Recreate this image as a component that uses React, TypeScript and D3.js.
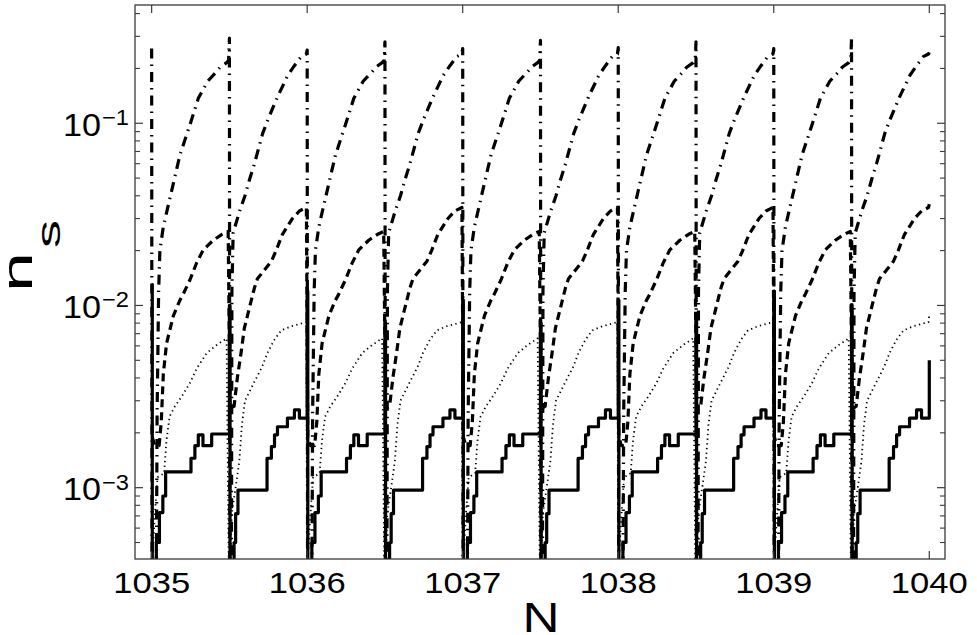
import React from 'react';
import * as d3 from 'd3';

const W = 977;
const H = 635;

// period boundaries (N) and their type
const periodStarts = [1035, 1035.5, 1036, 1036.5, 1037, 1037.5, 1038, 1038.5, 1039, 1039.5];
const periodKinds = ['A', 'B', 'A', 'B', 'A', 'B', 'A', 'B', 'A', 'B'];
const seriesEnd = 1040;

// spike heights at each boundary
const solidSpikes = [1.3e-2, 1.0e-2, 1.2e-2, 8e-3, 1.07e-2, 8e-3, 1.07e-2, 9e-3, 1.2e-2, 1.0e-2];
const dashDotSpikes = [0.257, 0.293, 0.252, 0.28, 0.257, 0.285, 0.26, 0.28, 0.257, 0.29];

// solid (staircase) : [offset within period, n_s]
const solidA: [number, number][] = [
  [0.004, 1e-4], [0.030, 5.0e-4], [0.050, 7.3e-4], [0.072, 9.0e-4], [0.090, 1.22e-3],
  [0.253, 1.45e-3], [0.278, 1.70e-3], [0.300, 1.95e-3], [0.330, 1.70e-3], [0.386, 1.97e-3],
];
const solidB: [number, number][] = [
  [0.004, 1e-4], [0.030, 5.0e-4], [0.040, 7.2e-4], [0.055, 9.7e-4], [0.242, 1.45e-3],
  [0.270, 1.68e-3], [0.290, 1.95e-3], [0.309, 2.16e-3], [0.373, 2.41e-3], [0.418, 2.67e-3],
  [0.450, 2.41e-3],
];
const solidEnd = 5e-3;

// dotted
const dottedA: [number, number][] = [
  [0.002, 1e-4], [0.006, 4.2e-4], [0.020, 7.0e-4], [0.038, 1.14e-3], [0.080, 1.2e-3],
  [0.095, 1.8e-3], [0.115, 2.45e-3], [0.150, 2.8e-3], [0.193, 3.16e-3], [0.246, 3.75e-3],
  [0.289, 4.5e-3], [0.354, 5.48e-3], [0.418, 6.07e-3], [0.482, 6.6e-3],
];
const dottedB: [number, number][] = [
  [0.002, 1e-4], [0.008, 4.5e-4], [0.015, 7.2e-4], [0.040, 1.0e-3], [0.064, 1.4e-3],
  [0.080, 2.2e-3], [0.100, 3.0e-3], [0.160, 3.8e-3], [0.210, 4.6e-3], [0.245, 5.5e-3],
  [0.290, 6.5e-3], [0.334, 7.3e-3], [0.400, 7.7e-3], [0.470, 8.0e-3], [0.495, 8.1e-3],
];
const dottedEnd = 8.8e-3;

// dashed
const dashedA: [number, number][] = [
  [0.004, 1.9e-3], [0.020, 1.7e-3], [0.048, 1.7e-3], [0.062, 2.3e-3], [0.075, 4.2e-3],
  [0.096, 6.2e-3], [0.140, 8.8e-3], [0.182, 1.07e-2], [0.200, 1.14e-2], [0.246, 1.38e-2],
  [0.289, 1.71e-2], [0.332, 2.02e-2], [0.396, 2.28e-2], [0.450, 2.45e-2], [0.492, 2.55e-2],
];
const dashedB: [number, number][] = [
  [0.004, 2.7e-3], [0.030, 2.8e-3], [0.051, 4.0e-3], [0.075, 5.5e-3], [0.096, 7.5e-3],
  [0.141, 1.07e-2], [0.161, 1.25e-2], [0.180, 1.4e-2], [0.270, 1.75e-2], [0.300, 2.0e-2],
  [0.340, 2.45e-2], [0.405, 3.0e-2], [0.450, 3.3e-2], [0.495, 3.45e-2],
];
const dashedEnd = 3.6e-2;

// dash-dot
const dashDotA: [number, number][] = [
  [0.003, 1e-4], [0.028, 1e-4], [0.035, 2.5e-3], [0.045, 1.2e-2], [0.053, 2.0e-2],
  [0.075, 2.7e-2], [0.118, 3.9e-2], [0.182, 6.7e-2], [0.246, 0.098], [0.300, 0.137],
  [0.360, 0.170], [0.420, 0.193], [0.440, 0.203], [0.482, 0.215], [0.495, 0.222],
];
const dashDotB: [number, number][] = [
  [0.003, 1e-4], [0.012, 1e-4], [0.016, 1.2e-2], [0.024, 2.5e-2], [0.066, 3.3e-2],
  [0.100, 4.0e-2], [0.129, 4.9e-2], [0.161, 6.0e-2], [0.214, 8.8e-2], [0.250, 0.106],
  [0.310, 0.140], [0.375, 0.183], [0.418, 0.207], [0.461, 0.232], [0.495, 0.240],
];
const dashDotEnd = 0.245;

const xTickValues = [1035, 1036, 1037, 1038, 1039, 1040];
const yDecades = [-3, -2, -1];

function buildSeries(
  tplA: [number, number][],
  tplB: [number, number][],
  spikes: number[] | null,
  endValue: number
): [number, number][] {
  const pts: [number, number][] = [];
  periodStarts.forEach((p, i) => {
    if (spikes) pts.push([p, spikes[i]]);
    const tpl = periodKinds[i] === 'A' ? tplA : tplB;
    tpl.forEach(([o, v]) => pts.push([p + o, v]));
  });
  pts.push([seriesEnd, endValue]);
  return pts;
}

const FONT = "'Liberation Sans', Arial, Helvetica, sans-serif";

export default function App() {
  const left = 135, right = 945, top = 5, bottom = 559;
  const x = d3.scaleLinear().domain([1034.893, 1040.101]).range([left, right]);
  const y = d3.scaleLog().domain([4.06e-4, 0.4457]).range([bottom, top]);

  const solid = buildSeries(solidA, solidB, solidSpikes, solidEnd);
  const dotted = buildSeries(dottedA, dottedB, null, dottedEnd);
  const dashed = buildSeries(dashedA, dashedB, null, dashedEnd);
  const dashDot = buildSeries(dashDotA, dashDotB, dashDotSpikes, dashDotEnd);

  const stepLine = d3.line<[number, number]>().x(d => x(d[0])).y(d => y(d[1])).curve(d3.curveStepAfter);
  const linLine = d3.line<[number, number]>().x(d => x(d[0])).y(d => y(d[1]));

  const [d0, d1] = y.domain();
  const yMinor = y.ticks(10).filter(v => v >= d0 && v <= d1 && Math.abs(Math.log10(v) - Math.round(Math.log10(v))) > 1e-6);

  const axisColor = '#3a3a3a';
  const majorLen = 8;
  const minorLen = 5;

  return (
    <svg width={W} height={H} style={{ position: 'absolute', left: 0, top: 0, background: '#fff' }}>
      <defs>
        <clipPath id="plotclip">
          <rect x={left} y={top} width={right - left} height={bottom - top} />
        </clipPath>
      </defs>
      <rect x={0} y={0} width={W} height={H} fill="#fff" />
      <g clipPath="url(#plotclip)" fill="none" stroke="#000" strokeLinejoin="round">
        <path d={linLine(dotted) || ''} strokeWidth={1.8} strokeDasharray="1.3,3.4" />
        <path d={linLine(dashed) || ''} strokeWidth={3.2} strokeDasharray="8,5" />
        <path d={linLine(dashDot) || ''} strokeWidth={3.2} strokeDasharray="10,6,1.5,6" />
        <path d={stepLine(solid) || ''} strokeWidth={3.2} />
      </g>
      {/* frame */}
      <rect x={left} y={top} width={right - left} height={bottom - top} fill="none" stroke={axisColor} strokeWidth={1.3} />
      {/* x ticks */}
      {xTickValues.map(v => (
        <g key={'xt' + v}>
          <line x1={x(v)} x2={x(v)} y1={bottom} y2={bottom - majorLen} stroke={axisColor} strokeWidth={1.2} />
          <line x1={x(v)} x2={x(v)} y1={top} y2={top + majorLen} stroke={axisColor} strokeWidth={1.2} />
          <text x={x(v)} y={593} fontFamily={FONT} fontSize={30} textAnchor="middle" textLength={77} lengthAdjust="spacingAndGlyphs" fill="#000">
            {String(v)}
          </text>
        </g>
      ))}
      {/* y major ticks */}
      {yDecades.map(e => {
        const yy = y(Math.pow(10, e));
        return (
          <g key={'ym' + e}>
            <line x1={left} x2={left + majorLen} y1={yy} y2={yy} stroke={axisColor} strokeWidth={1.2} />
            <line x1={right} x2={right - majorLen} y1={yy} y2={yy} stroke={axisColor} strokeWidth={1.2} />
            <text x={101} y={yy + 12.7} fontFamily={FONT} fontSize={31} textAnchor="end" textLength={38} lengthAdjust="spacingAndGlyphs" fill="#000">10</text>
            <text x={102} y={yy + 2} fontFamily={FONT} fontSize={22} textAnchor="start" textLength={27} lengthAdjust="spacingAndGlyphs" fill="#000">{'\u2212' + String(-e)}</text>
          </g>
        );
      })}
      {/* y minor ticks */}
      {yMinor.map(v => (
        <g key={'yn' + v}>
          <line x1={left} x2={left + minorLen} y1={y(v)} y2={y(v)} stroke={axisColor} strokeWidth={1.1} />
          <line x1={right} x2={right - minorLen} y1={y(v)} y2={y(v)} stroke={axisColor} strokeWidth={1.1} />
        </g>
      ))}
      {/* x label */}
      <text x={541} y={632} fontFamily={FONT} fontSize={42} textAnchor="middle" textLength={37} lengthAdjust="spacingAndGlyphs" fill="#000">N</text>
      {/* y label */}
      <g transform="translate(32,292) rotate(-90)">
        <text x={0} y={0} fontFamily={FONT} fontSize={42} textLength={40} lengthAdjust="spacingAndGlyphs" fill="#000">n</text>
        <text x={44} y={28} fontFamily={FONT} fontSize={34} textLength={28} lengthAdjust="spacingAndGlyphs" fill="#000">s</text>
      </g>
    </svg>
  );
}
